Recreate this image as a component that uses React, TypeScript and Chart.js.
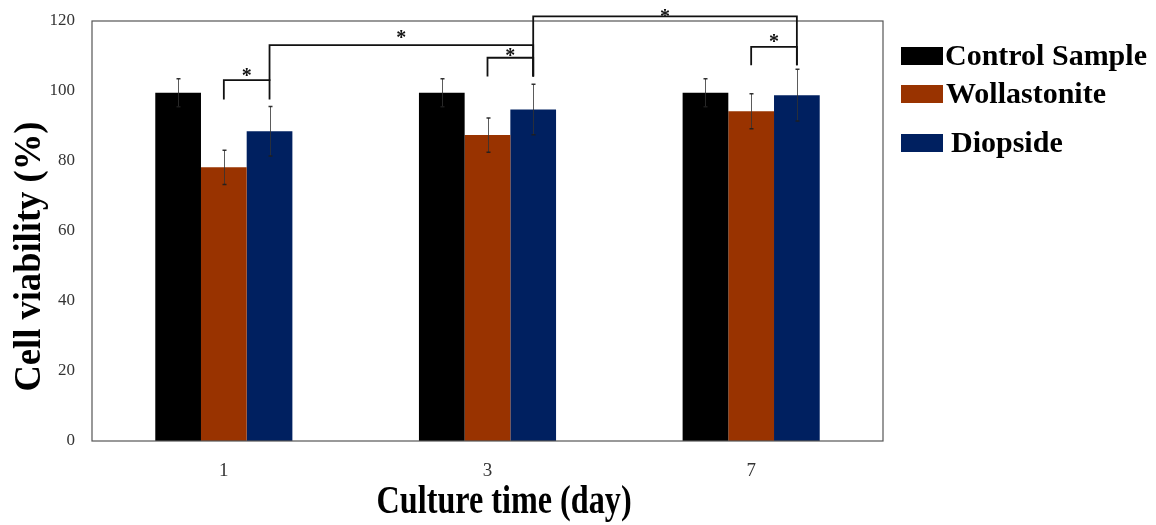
import React, { useEffect, useRef } from 'react';
import { Chart, registerables } from 'chart.js';

Chart.register(...registerables);

// ---------- data ----------
const categories = ['1', '3', '7'];
const seriesNames = ['Control Sample', 'Wollastonite', 'Diopside'];
const controlValues = [99.5, 99.5, 99.5];
const wollastoniteValues = [78.2, 87.4, 94.2];
const diopsideValues = [88.5, 94.7, 98.8];
const controlErrors = [4.0, 4.0, 4.0];
const wollastoniteErrors = [4.9, 4.9, 5.0];
const diopsideErrors = [7.1, 7.2, 7.4];
const yTickValues = [0, 20, 40, 60, 80, 100, 120];
const xTitle = 'Culture time (day)';
const yTitle = 'Cell viability (%)';

// significance brackets: [datasetIndex, categoryIndex] endpoints, levels in data units
const bracketStart = [[1, 0], [2, 0], [1, 1], [2, 1], [1, 2]];
const bracketEnd = [[2, 0], [2, 1], [2, 1], [2, 2], [2, 2]];
const bracketTop = [103.1, 113.1, 109.5, 121.3, 112.6];
const bracketStartLow = [97.8, 103.1, 104.4, 104.4, 107.6];
const bracketEndLow = [97.8, 104.4, 104.4, 107.6, 107.6];
const starLevel = [105.4, 116.3, 111.2, 122.2, 115.2];
const starLabel = '*';

// ---------- styles ----------
const FONT = "'Liberation Serif', 'Times New Roman', Times, serif";
const COLORS = ['#000000', '#993300', '#002060'];

const annotatePlugin = {
  id: 'annotate',
  afterDraw(chart: any) {
    const ctx = chart.ctx as CanvasRenderingContext2D;
    const ys = chart.scales.y;
    const area = chart.chartArea;
    const errs = [controlErrors, wollastoniteErrors, diopsideErrors];
    ctx.save();

    // frame
    ctx.strokeStyle = '#555555';
    ctx.lineWidth = 1.2;
    ctx.strokeRect(area.left, area.top, area.right - area.left, area.bottom - area.top);

    // error bars
    chart.data.datasets.forEach((ds: any, i: number) => {
      const meta = chart.getDatasetMeta(i);
      meta.data.forEach((el: any, j: number) => {
        const v = ds.data[j];
        const e = errs[i][j];
        const x = Math.round(el.x) + 0.5;
        const yt = ys.getPixelForValue(v + e);
        const yb = ys.getPixelForValue(v - e);
        ctx.strokeStyle = 'rgba(50,50,50,0.8)';
        ctx.lineWidth = 1;
        ctx.beginPath();
        ctx.moveTo(x, yt);
        ctx.lineTo(x, yb);
        ctx.stroke();
        ctx.strokeStyle = 'rgba(30,30,30,0.9)';
        ctx.lineWidth = 1.5;
        ctx.beginPath();
        ctx.moveTo(x - 2, yt);
        ctx.lineTo(x + 2, yt);
        ctx.moveTo(x - 2, yb);
        ctx.lineTo(x + 2, yb);
        ctx.stroke();
      });
    });

    // significance brackets
    const barX = (p: number[]) => chart.getDatasetMeta(p[0]).data[p[1]].x;
    ctx.strokeStyle = '#111111';
    ctx.lineWidth = 1.8;
    ctx.lineCap = 'square';
    ctx.fillStyle = '#111111';
    ctx.font = `bold 20px ${FONT}`;
    ctx.textAlign = 'center';
    ctx.textBaseline = 'alphabetic';
    const m = ctx.measureText(starLabel);
    for (let k = 0; k < bracketTop.length; k++) {
      const x1 = barX(bracketStart[k]);
      const x2 = barX(bracketEnd[k]);
      const yTop = ys.getPixelForValue(bracketTop[k]);
      ctx.beginPath();
      ctx.moveTo(x1, ys.getPixelForValue(bracketStartLow[k]));
      ctx.lineTo(x1, yTop);
      ctx.lineTo(x2, yTop);
      ctx.lineTo(x2, ys.getPixelForValue(bracketEndLow[k]));
      ctx.stroke();
      const cy = ys.getPixelForValue(starLevel[k]);
      const by = cy - (m.actualBoundingBoxDescent - m.actualBoundingBoxAscent) / 2;
      ctx.fillText(starLabel, (x1 + x2) / 2, by);
    }

    // legend
    const boxLeft = area.right + 18;
    const baselines = [65, 103, 152];
    const indents = [2, 3, 8];
    ctx.textAlign = 'left';
    ctx.font = `bold 30px ${FONT}`;
    chart.data.datasets.forEach((ds: any, i: number) => {
      ctx.fillStyle = ds.backgroundColor;
      ctx.fillRect(boxLeft, baselines[i] - 18, 42, 18);
      ctx.fillStyle = '#000000';
      ctx.fillText(ds.label, boxLeft + 42 + indents[i], baselines[i]);
    });

    // x axis title
    ctx.font = `bold 40px ${FONT}`;
    ctx.textAlign = 'center';
    const wx = ctx.measureText(xTitle).width;
    ctx.save();
    ctx.translate(area.left + (area.right - area.left) * 0.521, area.bottom + 72);
    ctx.scale(255 / wx, 1);
    ctx.fillText(xTitle, 0, 0);
    ctx.restore();

    // y axis title
    ctx.font = `bold 38px ${FONT}`;
    const wy = ctx.measureText(yTitle).width;
    ctx.save();
    ctx.translate(40, area.top + (area.bottom - area.top) * 0.561);
    ctx.rotate(-Math.PI / 2);
    ctx.scale(270 / wy, 1);
    ctx.fillText(yTitle, 0, 0);
    ctx.restore();

    ctx.restore();
  },
};

export default function App() {
  const ref = useRef<HTMLCanvasElement>(null);
  useEffect(() => {
    if (!ref.current) return;
    const chart = new Chart(ref.current, {
      type: 'bar',
      data: {
        labels: categories,
        datasets: [
          { label: seriesNames[0], data: controlValues, backgroundColor: COLORS[0] },
          { label: seriesNames[1], data: wollastoniteValues, backgroundColor: COLORS[1] },
          { label: seriesNames[2], data: diopsideValues, backgroundColor: COLORS[2] },
        ],
      },
      options: {
        responsive: false,
        animation: false,
        events: [],
        layout: { padding: { top: 21, right: 273, left: 0, bottom: 0 } },
        datasets: { bar: { categoryPercentage: 0.52, barPercentage: 1.0, borderWidth: 0 } },
        plugins: { legend: { display: false }, tooltip: { enabled: false }, title: { display: false } },
        scales: {
          x: {
            grid: { display: false, drawTicks: false },
            border: { display: false },
            ticks: { font: { family: FONT, size: 19 }, color: '#333333', padding: 19 },
            afterFit: (s: any) => { s.height = 84; s.paddingLeft = 0; s.paddingRight = 0; },
          },
          y: {
            min: 0,
            max: 120,
            grid: { display: false, drawTicks: false },
            border: { display: false },
            ticks: { font: { family: FONT, size: 17 }, color: '#333333', padding: 17 },
            afterBuildTicks: (s: any) => { s.ticks = yTickValues.map((v) => ({ value: v })); },
            afterFit: (s: any) => { s.width = 92; s.paddingTop = 0; s.paddingBottom = 0; },
          },
        },
      },
      plugins: [annotatePlugin],
    });
    return () => chart.destroy();
  }, []);
  return (
    <div style={{ position: 'fixed', left: 0, top: 0, width: 1156, height: 525, background: '#ffffff' }}>
      <canvas ref={ref} width={1156} height={525} style={{ display: 'block' }} />
    </div>
  );
}
